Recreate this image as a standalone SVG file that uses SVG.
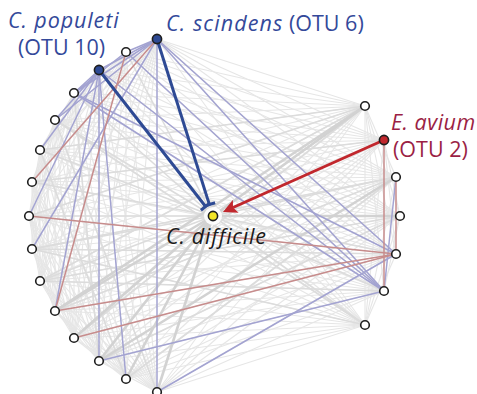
<svg xmlns="http://www.w3.org/2000/svg" width="477" height="394" viewBox="0 0 477 394">
<style>
.a path{stroke:#e6e6e6;stroke-width:1.1;fill:none}
.b path{stroke:#dcdcdc;stroke-width:1.6;fill:none}
.c path{stroke:#d2d2d2;stroke-width:2.6;fill:none}
.u path{stroke:#a3a3d1;stroke-width:1.5;fill:none}
.r path{stroke:#c78c8c;stroke-width:1.5;fill:none}
.nd{fill:#fff;stroke:#1e1e1e;stroke-width:1.6}
.lbl{font-family:"Open Sans","DejaVu Sans",sans-serif;font-size:21.5px}
.it{font-style:italic;letter-spacing:0.9px}
</style>
<defs>
<marker id="tee" markerUnits="userSpaceOnUse" viewBox="-7 -7 14 14" markerWidth="14" markerHeight="14" refX="0" refY="0" orient="auto"><path d="M0,-6 L0,6" stroke="#2e4a94" stroke-width="3"/></marker>
<marker id="arr" markerUnits="userSpaceOnUse" viewBox="0 0 14 14" markerWidth="14" markerHeight="14" refX="3" refY="7" orient="auto"><path d="M0,0 L14,7 L0,14 L3,7 z" fill="#c1272d"/></marker>
</defs>
<rect width="477" height="394" fill="#fff"/>
<g id="connectors">
<g class="a">
<path d="M157 39L365 106"/><path d="M157 39L384 140"/><path d="M157 39L396 177"/><path d="M157 39L400 216"/><path d="M157 39L396 254"/><path d="M157 39L384 291"/><path d="M157 39L365 325"/>
<path d="M126 52L365 106"/><path d="M126 52L384 140"/><path d="M126 52L396 177"/><path d="M126 52L400 216"/><path d="M126 52L396 254"/><path d="M126 52L384 291"/><path d="M126 52L365 325"/>
<path d="M99 70L365 106"/><path d="M99 70L384 140"/><path d="M99 70L396 177"/><path d="M99 70L400 216"/><path d="M99 70L396 254"/><path d="M99 70L384 291"/><path d="M99 70L365 325"/>
<path d="M74 93L365 106"/><path d="M74 93L384 140"/><path d="M74 93L396 177"/><path d="M74 93L400 216"/><path d="M74 93L396 254"/><path d="M74 93L384 291"/><path d="M74 93L365 325"/>
<path d="M55 120L365 106"/><path d="M55 120L384 140"/><path d="M55 120L396 177"/><path d="M55 120L400 216"/><path d="M55 120L396 254"/><path d="M55 120L384 291"/><path d="M55 120L365 325"/>
<path d="M40 150L365 106"/><path d="M40 150L384 140"/><path d="M40 150L396 177"/><path d="M40 150L400 216"/><path d="M40 150L396 254"/><path d="M40 150L384 291"/><path d="M40 150L365 325"/>
<path d="M32 182L365 106"/><path d="M32 182L384 140"/><path d="M32 182L396 177"/><path d="M32 182L400 216"/><path d="M32 182L396 254"/><path d="M32 182L384 291"/><path d="M32 182L365 325"/>
<path d="M29 216L365 106"/><path d="M29 216L384 140"/><path d="M29 216L396 177"/><path d="M29 216L400 216"/><path d="M29 216L396 254"/><path d="M29 216L384 291"/><path d="M29 216L365 325"/>
<path d="M32 249L365 106"/><path d="M32 249L384 140"/><path d="M32 249L396 177"/><path d="M32 249L400 216"/><path d="M32 249L396 254"/><path d="M32 249L384 291"/><path d="M32 249L365 325"/>
<path d="M40 281L365 106"/><path d="M40 281L384 140"/><path d="M40 281L396 177"/><path d="M40 281L400 216"/><path d="M40 281L396 254"/><path d="M40 281L384 291"/><path d="M40 281L365 325"/>
<path d="M55 311L365 106"/><path d="M55 311L384 140"/><path d="M55 311L396 177"/><path d="M55 311L400 216"/><path d="M55 311L396 254"/><path d="M55 311L384 291"/><path d="M55 311L365 325"/>
<path d="M74 338L365 106"/><path d="M74 338L384 140"/><path d="M74 338L396 177"/><path d="M74 338L400 216"/><path d="M74 338L396 254"/><path d="M74 338L384 291"/><path d="M74 338L365 325"/>
<path d="M99 361L365 106"/><path d="M99 361L384 140"/><path d="M99 361L396 177"/><path d="M99 361L400 216"/><path d="M99 361L396 254"/><path d="M99 361L384 291"/><path d="M99 361L365 325"/>
<path d="M126 379L365 106"/><path d="M126 379L384 140"/><path d="M126 379L396 177"/><path d="M126 379L400 216"/><path d="M126 379L396 254"/><path d="M126 379L384 291"/><path d="M126 379L365 325"/>
<path d="M157 392L365 106"/><path d="M157 392L384 140"/><path d="M157 392L396 177"/><path d="M157 392L400 216"/><path d="M157 392L396 254"/><path d="M157 392L384 291"/><path d="M157 392L365 325"/>
<path d="M157 39L55 120"/><path d="M157 39L40 150"/><path d="M157 39L32 182"/><path d="M157 39L29 216"/><path d="M157 39L40 281"/><path d="M157 39L55 311"/><path d="M157 39L74 338"/><path d="M157 39L99 361"/><path d="M157 39L126 379"/>
<path d="M126 52L55 120"/><path d="M126 52L40 150"/><path d="M126 52L32 182"/><path d="M126 52L29 216"/><path d="M126 52L32 249"/><path d="M126 52L40 281"/><path d="M126 52L74 338"/><path d="M126 52L99 361"/><path d="M126 52L126 379"/><path d="M126 52L157 392"/>
<path d="M99 70L32 182"/><path d="M99 70L40 281"/><path d="M99 70L74 338"/><path d="M99 70L157 392"/>
<path d="M74 93L40 150"/><path d="M74 93L32 182"/><path d="M74 93L29 216"/><path d="M74 93L32 249"/><path d="M74 93L40 281"/><path d="M74 93L55 311"/><path d="M74 93L74 338"/><path d="M74 93L99 361"/><path d="M74 93L126 379"/><path d="M74 93L157 392"/>
<path d="M55 120L32 182"/><path d="M55 120L29 216"/><path d="M55 120L32 249"/><path d="M55 120L40 281"/><path d="M55 120L55 311"/><path d="M55 120L74 338"/><path d="M55 120L99 361"/><path d="M55 120L126 379"/><path d="M55 120L157 392"/>
<path d="M40 150L29 216"/><path d="M40 150L32 249"/><path d="M40 150L40 281"/><path d="M40 150L55 311"/><path d="M40 150L74 338"/><path d="M40 150L99 361"/><path d="M40 150L126 379"/><path d="M40 150L157 392"/>
<path d="M32 182L32 249"/><path d="M32 182L40 281"/><path d="M32 182L55 311"/><path d="M32 182L74 338"/><path d="M32 182L99 361"/><path d="M32 182L126 379"/><path d="M32 182L157 392"/>
<path d="M29 216L40 281"/><path d="M29 216L55 311"/><path d="M29 216L74 338"/><path d="M29 216L99 361"/><path d="M29 216L126 379"/><path d="M29 216L157 392"/>
<path d="M32 249L55 311"/><path d="M32 249L74 338"/><path d="M32 249L99 361"/><path d="M32 249L126 379"/><path d="M32 249L157 392"/>
<path d="M40 281L74 338"/><path d="M40 281L99 361"/><path d="M40 281L126 379"/><path d="M40 281L157 392"/>
<path d="M55 311L99 361"/><path d="M55 311L126 379"/><path d="M55 311L157 392"/>
<path d="M74 338L126 379"/><path d="M74 338L157 392"/><path d="M99 361L157 392"/>
<path d="M365 106L396 177"/><path d="M365 106L400 216"/><path d="M365 106L396 254"/><path d="M365 106L384 291"/><path d="M365 106L365 325"/>
<path d="M384 140L400 216"/><path d="M384 140L396 254"/><path d="M384 140L365 325"/>
<path d="M396 177L365 325"/><path d="M400 216L384 291"/><path d="M400 216L365 325"/><path d="M396 254L365 325"/>
</g>
<g class="b">
<path d="M213 216L157 39"/><path d="M213 216L126 52"/><path d="M213 216L99 70"/><path d="M213 216L74 93"/><path d="M213 216L55 120"/><path d="M213 216L40 150"/><path d="M213 216L32 182"/><path d="M213 216L29 216"/><path d="M213 216L32 249"/><path d="M213 216L40 281"/>
<path d="M213 216L365 106"/><path d="M213 216L384 140"/><path d="M213 216L396 177"/><path d="M213 216L396 254"/><path d="M213 216L384 291"/><path d="M213 216L365 325"/>
<path d="M365 106L29 216"/><path d="M365 106L40 281"/><path d="M365 106L74 338"/><path d="M396 177L32 249"/><path d="M396 177L55 311"/><path d="M400 216L40 281"/><path d="M384 140L32 182"/><path d="M365 106L40 150"/><path d="M396 254L32 249"/><path d="M400 216L99 361"/><path d="M396 177L126 379"/><path d="M384 291L40 281"/><path d="M365 325L32 249"/><path d="M74 93L99 361"/><path d="M40 150L126 379"/><path d="M55 120L157 392"/><path d="M365 325L55 120"/>
</g>
<g class="c">
<path d="M213 216L99 361"/><path d="M213 216L126 379"/><path d="M213 216L157 392"/><path d="M213 216L400 216"/><path d="M213 216L365 106"/><path d="M213 216L74 338"/><path d="M213 216L55 311"/><path d="M396 177L99 361"/><path d="M365 106L55 311"/>
</g>
<circle cx="213" cy="216" r="9" fill="#fff" fill-opacity="0.9"/>
<g class="u">
<path d="M157 39L157 392"/><path d="M157 39L384 291"/><path d="M157 39L396 254"/><path d="M157 39L126 52"/><path d="M157 39L99 70"/><path d="M157 39L74 93"/><path d="M157 39L55 120"/><path d="M157 39L32 249"/>
<path d="M99 70L99 361"/><path d="M99 70L126 379"/><path d="M99 70L29 216"/><path d="M99 70L74 93"/><path d="M99 70L55 120"/><path d="M99 70L40 150"/><path d="M99 70L384 291"/><path d="M99 70L55 311"/>
<path d="M126 52L384 291"/><path d="M74 93L384 291"/><path d="M74 93L396 254"/><path d="M126 52L74 93"/>
<path d="M99 361L384 291"/><path d="M157 392L396 254"/><path d="M396 177L384 291"/>
</g>
<g class="r">
<path d="M29 216L396 254"/><path d="M55 311L126 52"/><path d="M32 182L157 39"/><path d="M55 311L396 254"/><path d="M74 338L396 254"/><path d="M384 140L384 291"/><path d="M396 177L396 254"/>
</g>
<path id="e-scindens" d="M157 39L209.4 204.6" stroke="#2e4a94" stroke-width="3" fill="none" marker-end="url(#tee)"/>
<path id="e-populeti" d="M99 70L205.6 206.5" stroke="#2e4a94" stroke-width="3" fill="none" marker-end="url(#tee)"/>
<path id="e-avium" d="M384 140L233 207.5" stroke="#c1272d" stroke-width="3" fill="none" marker-end="url(#arr)"/>
</g>
<g id="n-scindens"><circle cx="157" cy="39" r="4.6" class="nd" style="fill:#2e4a94"/><text class="lbl" x="166" y="30.5" fill="#34499a"><tspan class="it" style="letter-spacing:1.1px">C. scindens</tspan> (OTU 6)</text></g>
<g id="n-populeti"><circle cx="99" cy="70" r="4.6" class="nd" style="fill:#2e4a94"/><text class="lbl it" x="8" y="27.5" fill="#34499a">C. populeti</text><text class="lbl" x="18" y="54.5" fill="#34499a">(OTU 10)</text></g>
<g id="n-avium"><circle cx="384" cy="140" r="4.6" class="nd" style="fill:#c1272d"/><text class="lbl it" x="391" y="129.5" fill="#9b1f45" style="letter-spacing:0.5px">E. avium</text><text class="lbl" x="393" y="156.5" fill="#9b1f45">(OTU 2)</text></g>
<g id="n-difficile"><circle cx="213" cy="216" r="4.6" class="nd" style="fill:#f3e526"/><text class="lbl it" x="166" y="243.5" fill="#1a1a1a" style="letter-spacing:0.75px">C. difficile</text></g>
<g id="n1"><circle cx="126" cy="52" r="4.3" class="nd"/></g>
<g id="n3"><circle cx="74" cy="93" r="4.3" class="nd"/></g>
<g id="n4"><circle cx="55" cy="120" r="4.3" class="nd"/></g>
<g id="n5"><circle cx="40" cy="150" r="4.3" class="nd"/></g>
<g id="n6"><circle cx="32" cy="182" r="4.3" class="nd"/></g>
<g id="n7"><circle cx="29" cy="216" r="4.3" class="nd"/></g>
<g id="n8"><circle cx="32" cy="249" r="4.3" class="nd"/></g>
<g id="n9"><circle cx="40" cy="281" r="4.3" class="nd"/></g>
<g id="n10"><circle cx="55" cy="311" r="4.3" class="nd"/></g>
<g id="n11"><circle cx="74" cy="338" r="4.3" class="nd"/></g>
<g id="n12"><circle cx="99" cy="361" r="4.3" class="nd"/></g>
<g id="n13"><circle cx="126" cy="379" r="4.3" class="nd"/></g>
<g id="n14"><circle cx="157" cy="392" r="4.3" class="nd"/></g>
<g id="r0"><circle cx="365" cy="106" r="4.3" class="nd"/></g>
<g id="r2"><circle cx="396" cy="177" r="4.3" class="nd"/></g>
<g id="r3"><circle cx="400" cy="216" r="4.3" class="nd"/></g>
<g id="r4"><circle cx="396" cy="254" r="4.3" class="nd"/></g>
<g id="r5"><circle cx="384" cy="291" r="4.3" class="nd"/></g>
<g id="r6"><circle cx="365" cy="325" r="4.3" class="nd"/></g>
</svg>
